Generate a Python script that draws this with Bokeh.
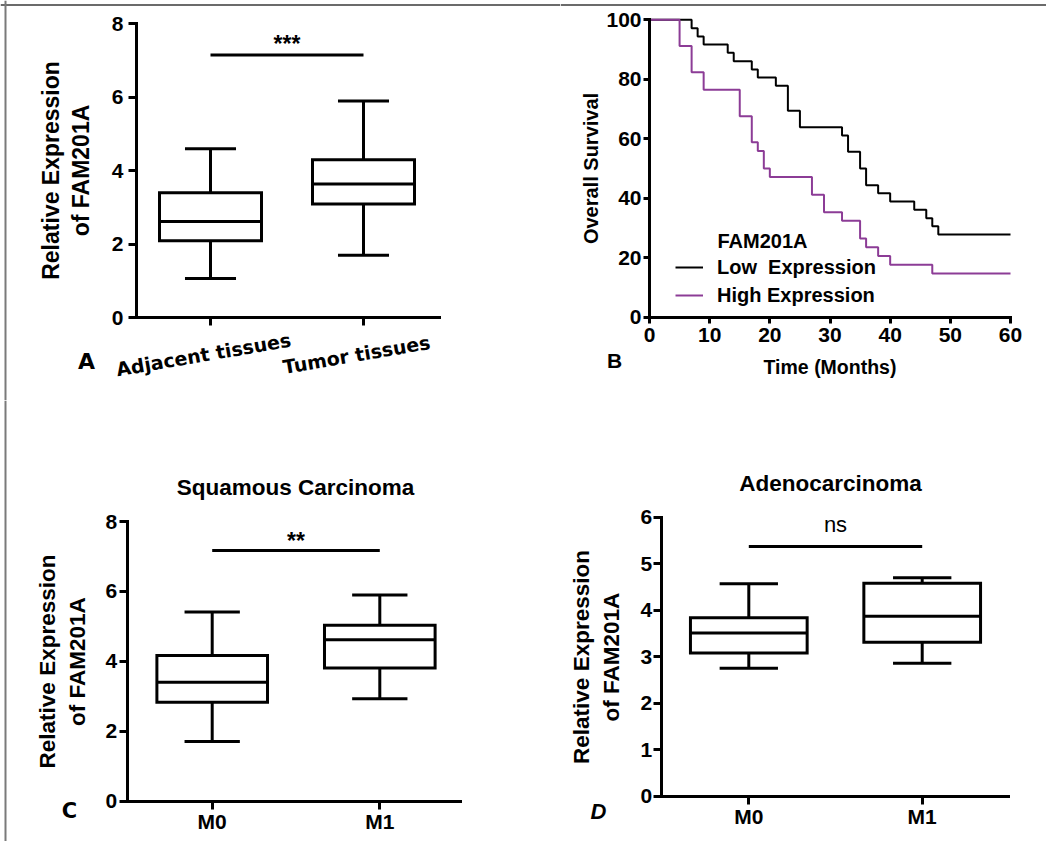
from bokeh.plotting import figure
from bokeh.layouts import column, row
from bokeh.models import Legend, LegendItem, FixedTicker, Range1d, ColumnDataSource, Span
from bokeh.core.properties import value
from bokeh.embed import file_html
from bokeh.resources import INLINE

# ---------------- Data ----------------
# Panel A
a_categories = ["Adjacent tissues", "Tumor tissues"]
a_min = [1.07, 1.70]
a_q1 = [2.10, 3.10]
a_median = [2.62, 3.64]
a_q3 = [3.40, 4.30]
a_max = [4.60, 5.90]
a_sig_y = 7.15
a_sig_text = "***"
a_yticks = [0, 2, 4, 6, 8]

# Panel B (Kaplan-Meier)
km_low_time = [0, 7, 8, 9, 13, 14, 17, 18, 21, 23, 25, 32, 33, 35, 36, 38, 40, 44, 46, 47, 48, 60]
km_low_surv = [100, 97.2, 94.4, 91.7, 88.9, 86.1, 83.3, 80.6, 77.8, 69.4, 63.9, 61.1, 55.6, 50.0,
               44.4, 41.7, 38.9, 36.1, 33.3, 30.6, 27.8, 27.8]
km_high_time = [0, 5, 7, 9, 15, 17, 18, 19, 20, 27, 29, 32, 35, 36, 38, 40, 47, 60]
km_high_surv = [100, 91.2, 82.4, 76.5, 67.6, 58.8, 55.9, 50.0, 47.1, 41.2, 35.3, 32.4, 26.5,
                23.5, 20.6, 17.6, 14.7, 14.7]
b_series = ["Low  Expression", "High Expression"]
b_legend_title = "FAM201A"
b_xticks = [0, 10, 20, 30, 40, 50, 60]
b_yticks = [0, 20, 40, 60, 80, 100]

# Panel C
c_title = "Squamous Carcinoma"
c_categories = ["M0", "M1"]
c_min = [1.71, 2.93]
c_q1 = [2.83, 3.81]
c_median = [3.40, 4.62]
c_q3 = [4.17, 5.03]
c_max = [5.41, 5.90]
c_sig_y = 7.17
c_sig_text = "**"
c_yticks = [0, 2, 4, 6, 8]

# Panel D
d_title = "Adenocarcinoma"
d_categories = ["M0", "M1"]
d_min = [2.75, 2.86]
d_q1 = [3.08, 3.31]
d_median = [3.51, 3.87]
d_q3 = [3.84, 4.58]
d_max = [4.57, 4.70]
d_sig_y = 5.37
d_sig_text = "ns"
d_yticks = [0, 1, 2, 3, 4, 5, 6]

FONT = "Liberation Sans"
PURPLE = "#8c3c96"
TICK = "21px"


# ---------------- helpers (layout only) ----------------
def lin(p0, v0, p1, v1):
    """map page pixel -> data value"""
    return lambda p: v0 + (p - p0) * (v1 - v0) / (p1 - p0)


def make_fig(px0, px1, py0, py1, fx, fy):
    p = figure(width=int(px1 - px0), height=int(py1 - py0),
               x_range=Range1d(fx(px0), fx(px1)), y_range=Range1d(fy(py1), fy(py0)),
               output_backend="svg", toolbar_location=None,
               min_border_left=0, min_border_right=0, min_border_top=0, min_border_bottom=0)
    p.xgrid.visible = False
    p.ygrid.visible = False
    p.outline_line_color = None
    p.background_fill_color = "white"
    p.border_fill_color = "white"
    for ax in p.axis:
        ax.axis_line_width = 3
        ax.axis_line_color = "black"
        ax.axis_line_cap = "square"
        ax.major_tick_line_width = 3
        ax.major_tick_line_color = "black"
        ax.major_tick_out = 8
        ax.major_tick_in = 0
        ax.minor_tick_line_color = None
        ax.major_label_text_font = FONT
        ax.major_label_text_font_style = "bold"
        ax.major_label_text_font_size = TICK
        ax.major_label_text_color = "black"
        ax.axis_label_text_font = FONT
        ax.axis_label_text_font_style = "bold"
        ax.axis_label_text_color = "black"
    return p


def set_axes(p, x0, x1, y0, y1, yaxis_x):
    p.yaxis.fixed_location = yaxis_x
    p.yaxis.bounds = (y0, y1)
    p.xaxis.fixed_location = y0
    p.xaxis.bounds = (x0, x1)


def boxes(p, mins, q1, med, q3, maxs, width):
    xs = [i + 1 for i in range(len(med))]
    src = ColumnDataSource(dict(
        x=xs,
        left=[x - width / 2 for x in xs], right=[x + width / 2 for x in xs],
        cl=[x - width / 4 for x in xs], cr=[x + width / 4 for x in xs],
        mn=mins, q1=q1, med=med, q3=q3, mx=maxs))
    kw = dict(source=src, line_width=3, line_color="black")
    p.segment(x0="x", y0="mn", x1="x", y1="q1", **kw)
    p.segment(x0="x", y0="q3", x1="x", y1="mx", **kw)
    p.segment(x0="cl", y0="mn", x1="cr", y1="mn", **kw)
    p.segment(x0="cl", y0="mx", x1="cr", y1="mx", **kw)
    p.quad(left="left", right="right", bottom="q1", top="q3", fill_color="white",
           line_join="miter", **kw)
    p.segment(x0="left", y0="med", x1="right", y1="med", **kw)
    return xs


def sig(p, xs, y, text, bold=True, size="23px", yoff=-3):
    p.line(x=[xs[0], xs[-1]], y=[y, y], line_width=3, line_color="black")
    p.text(x=[(xs[0] + xs[-1]) / 2], y=[y], text=[text], text_align="center",
           text_baseline="alphabetic", y_offset=yoff,
           text_font=value(FONT), text_font_style="bold" if bold else "normal",
           text_font_size=size, text_color="black")


def txt(p, x, y, text, font=FONT, style_="bold", size="20px", align="center", angle=0.0):
    p.text(x=[x], y=[y], text=[text], angle=angle, text_font=value(font),
           text_font_style=style_, text_font_size=size, text_align=align,
           text_baseline="middle", text_color="black")


def frame_lines(p, fx, fy, top=True, left=True):
    if top:
        p.add_layout(Span(location=fy(4.5), dimension="width", line_color="#3a3a3a", line_width=1.5))
    if left:
        p.add_layout(Span(location=fx(5), dimension="height", line_color="#7a7a7a", line_width=2))


# ---------------- Panel A ----------------
fxA = lin(210, 1, 363, 2)
fyA = lin(317.3, 0, 23.3, 8)
pA = make_fig(0, 560, 0, 400, fxA, fyA)
ax_a = boxes(pA, a_min, a_q1, a_median, a_q3, a_max, 0.667)
sig(pA, ax_a, a_sig_y, a_sig_text, yoff=-11)
set_axes(pA, fxA(136), fxA(439), a_yticks[0], a_yticks[-1], fxA(136))
pA.yaxis.ticker = FixedTicker(ticks=a_yticks)
pA.xaxis.ticker = FixedTicker(ticks=ax_a)
pA.xaxis.major_label_overrides = {x: " " for x in ax_a}
pA.yaxis.axis_label = "Relative Expression\nof FAM201A"
pA.yaxis.axis_label_text_font_size = "23px"
pA.yaxis.axis_label_text_line_height = 1.15
pA.yaxis.axis_label_standoff = 15
pA.yaxis.major_label_standoff = 5
for x, name in zip(ax_a, a_categories):
    pA.text(x=[x + fxA(203) - fxA(210)], y=[fyA(354)], text=[name], angle=0.17,
            text_font=value("DejaVu Sans"), text_font_style="bold", text_font_size="19px",
            text_align="center", text_baseline="middle", text_color="black")
txt(pA, fxA(86), fyA(361), "A", font="DejaVu Sans", size="22px")
frame_lines(pA, fxA, fyA)

# ---------------- Panel B ----------------
fxB = lin(649, 0, 1010, 60)
fyB = lin(316.7, 0, 19.3, 100)
pB = make_fig(560, 1046, 0, 400, fxB, fyB)
set_axes(pB, b_xticks[0], b_xticks[-1], b_yticks[0], b_yticks[-1], 0)
for ax in pB.axis:
    ax.major_tick_out = 6
pB.xaxis.ticker = FixedTicker(ticks=b_xticks)
pB.yaxis.ticker = FixedTicker(ticks=b_yticks)
pB.xaxis.major_label_standoff = 5
pB.yaxis.major_label_standoff = 2
pB.xaxis.axis_label = "Time (Months)"
pB.yaxis.axis_label = "Overall Survival"
pB.xaxis.axis_label_text_font_size = "19.5px"
pB.yaxis.axis_label_text_font_size = "20px"
pB.xaxis.axis_label_standoff = 10
pB.yaxis.axis_label_standoff = 1
r_low = pB.step(km_low_time, km_low_surv, mode="after", line_width=2, line_color="black")
r_high = pB.step(km_high_time, km_high_surv, mode="after", line_width=2, line_color=PURPLE)
legend = Legend(items=[LegendItem(label=b_series[0], renderers=[r_low]),
                       LegendItem(label=b_series[1], renderers=[r_high])],
                location=(115, 93), padding=0, margin=0, spacing=4,
                glyph_width=28, glyph_height=24, label_height=24, label_standoff=14,
                label_text_font=FONT, label_text_font_style="bold",
                label_text_font_size="20px", label_text_color="black",
                background_fill_alpha=0, border_line_color=None)
pB.add_layout(legend)
txt(pB, fxB(717), fyB(240), b_legend_title, align="left", size="20px")
txt(pB, fxB(614), fyB(360), "B", size="21px")
frame_lines(pB, fxB, fyB, left=False)

# ---------------- Panel C ----------------
fxC = lin(211.7, 1, 379.3, 2)
fyC = lin(800.7, 0, 521, 8)
pC = make_fig(0, 540, 400, 841, fxC, fyC)
ax_c = boxes(pC, c_min, c_q1, c_median, c_q3, c_max, 0.66)
sig(pC, ax_c, c_sig_y, c_sig_text, yoff=-10)
set_axes(pC, fxC(126.7), fxC(460), c_yticks[0], c_yticks[-1], fxC(126.7))
pC.yaxis.ticker = FixedTicker(ticks=c_yticks)
pC.xaxis.ticker = FixedTicker(ticks=ax_c)
pC.xaxis.major_label_overrides = {x: n for x, n in zip(ax_c, c_categories)}
pC.xaxis.major_label_standoff = 1
pC.yaxis.major_label_standoff = 2
pC.yaxis.axis_label = "Relative Expression\nof FAM201A"
pC.yaxis.axis_label_text_font_size = "22.5px"
pC.yaxis.axis_label_standoff = 13
txt(pC, fxC(295), fyC(487), c_title, size="22.5px")
txt(pC, fxC(69), fyC(810), "C", font="DejaVu Sans", size="21px")
frame_lines(pC, fxC, fyC, top=False)

# ---------------- Panel D ----------------
fxD = lin(748.3, 1, 921.7, 2)
fyD = lin(795.7, 0, 516.7, 6)
pD = make_fig(540, 1046, 400, 841, fxD, fyD)
ax_d = boxes(pD, d_min, d_q1, d_median, d_q3, d_max, 0.673)
sig(pD, ax_d, d_sig_y, d_sig_text, bold=False, size="22px", yoff=-22)
set_axes(pD, fxD(660.7), fxD(1008), d_yticks[0], d_yticks[-1], fxD(660.7))
pD.yaxis.ticker = FixedTicker(ticks=d_yticks)
pD.xaxis.ticker = FixedTicker(ticks=ax_d)
pD.xaxis.major_label_overrides = {x: n for x, n in zip(ax_d, d_categories)}
pD.xaxis.major_label_standoff = 1
pD.yaxis.major_label_standoff = 1
pD.yaxis.axis_label = "Relative Expression\nof FAM201A"
pD.yaxis.axis_label_text_font_size = "22.5px"
pD.yaxis.axis_label_standoff = 14
txt(pD, fxD(830), fyD(483), d_title, size="22.5px")
txt(pD, fxD(598), fyD(811), "D", style_="bold italic", size="22px")

layout = column(row(pA, pB, spacing=0), row(pC, pD, spacing=0), spacing=0)
open("out.html", "w").write(file_html(layout, INLINE))
